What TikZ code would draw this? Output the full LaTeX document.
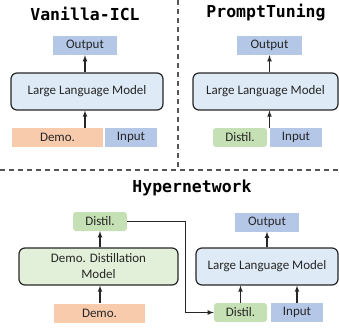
\documentclass[tikz,border=0pt]{standalone}
\usepackage{fontspec}
\setmainfont{Carlito}
\newfontfamily\titlefont{DejaVu Sans Mono}
\usetikzlibrary{calc,positioning}

\definecolor{outblue}{RGB}{180,199,231}
\definecolor{llmblue}{RGB}{222,235,247}
\definecolor{demoorange}{RGB}{248,203,173}
\definecolor{distgreen}{RGB}{197,224,180}
\definecolor{modelgreen}{RGB}{226,240,217}
\definecolor{sepgray}{RGB}{85,85,85}

\tikzset{
	box/.style={inner sep=0pt, minimum height=19pt, text=black!85,
		font=\fontsize{13}{16}\selectfont},
	flatbox/.style={box, fill=outblue},
	demobox/.style={box, fill=demoorange},
	distbox/.style={box, fill=distgreen, rounded corners=3pt},
	llmbox/.style={box, draw=black!85, line width=1.2pt, fill=llmblue,
		rounded corners=6pt, minimum height=37pt, align=center},
	headline/.style={font=\titlefont\bfseries\fontsize{16.5}{18}\selectfont},
	arr/.style={-latex, line width=1.1pt, black!85},
	sep/.style={sepgray, line width=1.3pt, dash pattern=on 5pt off 4pt}
}

\begin{document}
\begin{tikzpicture}[x=1pt,y=-1pt]
	\useasboundingbox (0,0) rectangle (339,327);

	% Vanilla-ICL
	\node[headline] (t1) at (85,14) {Vanilla-ICL};
	\node[flatbox, minimum width=64pt] (out1) at (85,45.5) {Output};
	\node[llmbox, minimum width=152pt] (llm1) at (87,91.5) {Large Language Model};
	\node[demobox, minimum width=91pt] (demo1) at (57.5,137.5) {Demo.};
	\node[flatbox, minimum width=52pt] (in1) at (131,137.5) {Input};
	\draw[arr] (out1.south |- demo1.north) -- (out1.south |- llm1.south);
	\draw[arr] (out1.south |- llm1.north) -- (out1.south);

	% PromptTuning
	\node[headline] (t2) at (266,13) {PromptTuning};
	\node[flatbox, minimum width=65pt] (out2) at (269.5,45.5) {Output};
	\node[llmbox, minimum width=145pt] (llm2) at (265.5,91.5) {Large Language Model};
	\node[distbox, minimum width=54pt] (dist2) at (240,137.5) {Distil.};
	\node[flatbox, minimum width=52pt] (in2) at (296,137.5) {Input};
	\draw[arr] (out2.south |- dist2.north) -- (out2.south |- llm2.south);
	\draw[arr] (out2.south |- llm2.north) -- (out2.south);

	% separators
	\draw[sep] (178,0) -- (178,167);
	\draw[sep] (0,170) -- (339,170);

	% Hypernetwork
	\node[headline] (t3) at (192,188) {Hypernetwork};
	\node[distbox, minimum width=54pt] (dist3) at (100,221.5) {Distil.};
	\node[llmbox, fill=modelgreen, minimum width=159pt] (model3) at (98.5,266.5)
		{Demo. Distillation\\Model};
	\node[demobox, minimum width=91pt] (demo3) at (99.5,313) {Demo.};
	\draw[arr] (dist3.south |- demo3.north) -- (dist3.south |- model3.south);
	\draw[arr] (dist3.south |- model3.north) -- (dist3.south);

	\node[flatbox, minimum width=64pt] (out4) at (267,222) {Output};
	\node[llmbox, minimum width=142pt] (llm4) at (267,266.5) {Large Language Model};
	\node[distbox, minimum width=53pt] (dist4) at (240.5,312.5) {Distil.};
	\node[flatbox, minimum width=52pt] (in4) at (297,312.5) {Input};
	\draw[arr] (dist4.north) -- (dist4.north |- llm4.south);
	\draw[arr] (in4.north) -- (in4.north |- llm4.south);
	\draw[arr] (out4.south |- llm4.north) -- (out4.south);
	\draw[arr] (dist3.east) -| ($(dist4.west)-(28,0)$) coordinate (bend) -- (dist4.west);
\end{tikzpicture}
\end{document}
